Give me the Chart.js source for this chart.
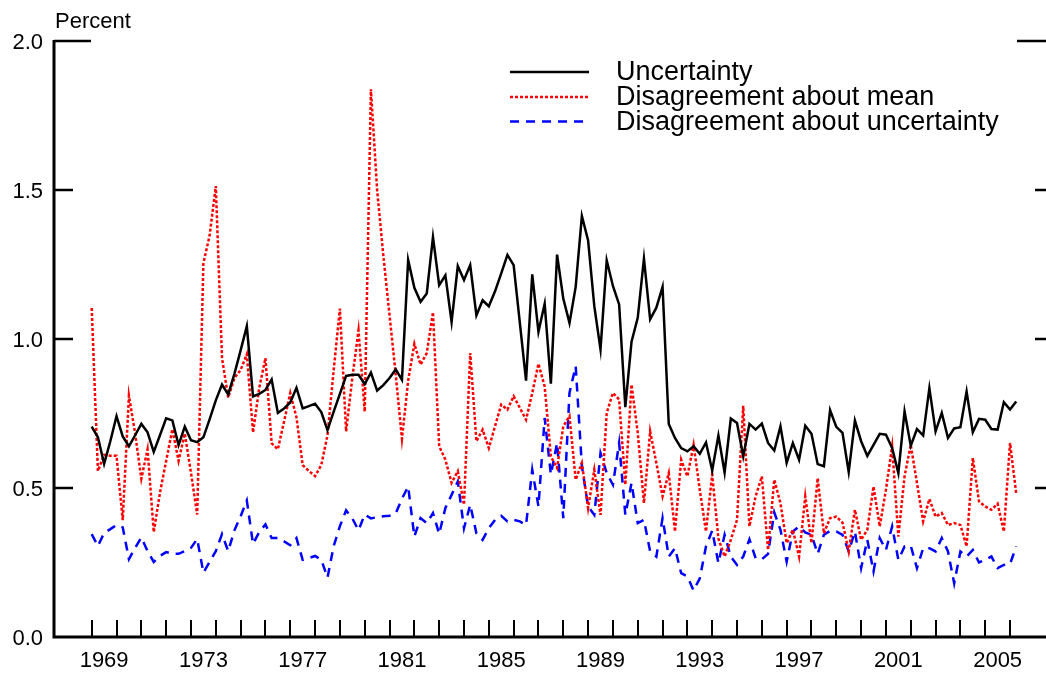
<!DOCTYPE html>
<html><head><meta charset="utf-8">
<script src="https://cdn.jsdelivr.net/npm/chart.js@4/dist/chart.umd.min.js"></script>
<style>html,body{margin:0;padding:0;background:#fff;}canvas{display:block;}</style>
</head><body>
<canvas id="c" width="1046" height="675"></canvas>
<script>
const startYear = 1969;
const seriesNames = ["Uncertainty", "Disagreement about mean", "Disagreement about uncertainty"];

const uncertainty = [
  0.706, 0.670, 0.581, 0.657, 0.741, 0.673, 0.640, 0.677, 0.715, 0.687,
  0.621, 0.677, 0.734, 0.727, 0.644, 0.706, 0.660, 0.654, 0.670, 0.730,
  0.794, 0.847, 0.814, 0.883, 0.962, 1.043, 0.807, 0.816, 0.829, 0.864,
  0.752, 0.767, 0.787, 0.836, 0.767, 0.775, 0.783, 0.755, 0.694, 0.756,
  0.816, 0.876, 0.880, 0.880, 0.849, 0.887, 0.827, 0.845, 0.869, 0.898,
  0.863,
  1.265, 1.172, 1.125, 1.153, 1.342, 1.181, 1.214, 1.057, 1.245, 1.198,
  1.248, 1.079, 1.130, 1.110, 1.160, 1.220, 1.282, 1.248, 1.054, 0.860,
  1.217, 1.024, 1.118, 0.850, 1.283, 1.136, 1.054, 1.175, 1.413, 1.331,
  1.110, 0.965, 1.264, 1.178, 1.116, 0.771, 0.991, 1.071, 1.270, 1.066,
  1.105, 1.175, 0.715, 0.668, 0.634, 0.623, 0.640, 0.615, 0.653, 0.559,
  0.676,
  0.552, 0.733, 0.718, 0.606, 0.715, 0.696, 0.716, 0.651, 0.626, 0.707,
  0.584, 0.651, 0.595, 0.709, 0.682, 0.580, 0.573, 0.761, 0.705, 0.685,
  0.554, 0.726, 0.657, 0.608, 0.645, 0.682,
  0.679, 0.634, 0.550, 0.757, 0.642, 0.698, 0.676, 0.835, 0.690, 0.752,
  0.668, 0.700, 0.704, 0.824, 0.687, 0.732, 0.729, 0.698, 0.696, 0.788,
  0.763, 0.790
];

const disagreementMean = [
  1.104, 0.557, 0.611, 0.608, 0.608, 0.392, 0.810, 0.683, 0.531, 0.630,
  0.352, 0.484, 0.591, 0.697, 0.591, 0.683, 0.551, 0.411, 1.254, 1.347,
  1.513, 0.936, 0.803, 0.869, 0.896, 0.949, 0.686, 0.836, 0.936, 0.650,
  0.630, 0.723, 0.819, 0.737, 0.577, 0.557, 0.540, 0.577, 0.677, 0.896,
  1.102, 0.690, 0.869, 1.029, 0.756, 1.838, 1.500, 1.280, 1.080, 0.880,
  0.665,
  0.860, 0.984, 0.914, 0.953, 1.090, 0.640, 0.595, 0.517, 0.556, 0.444,
  0.953, 0.657, 0.696, 0.634, 0.707, 0.780, 0.763, 0.808, 0.769, 0.729,
  0.819, 0.917, 0.841, 0.606, 0.567, 0.707, 0.741, 0.528, 0.584, 0.433,
  0.561, 0.410, 0.752, 0.819, 0.797, 0.511, 0.847, 0.685, 0.449, 0.690,
  0.584, 0.472, 0.550, 0.354, 0.595, 0.539, 0.645, 0.494, 0.354, 0.545,
  0.330,
  0.270, 0.326, 0.393, 0.776, 0.371, 0.472, 0.539, 0.292, 0.528, 0.449,
  0.315, 0.360, 0.270, 0.472, 0.315, 0.533, 0.348, 0.399, 0.404, 0.384,
  0.287, 0.427, 0.326, 0.360, 0.505, 0.371,
  0.494, 0.640, 0.337, 0.539, 0.645, 0.517, 0.388, 0.463, 0.404, 0.416,
  0.376, 0.382, 0.376, 0.304, 0.601, 0.455, 0.438, 0.427, 0.447, 0.354,
  0.651, 0.481
];

const disagreementUncertainty = [
  0.345, 0.305, 0.349, 0.362, 0.376, 0.368, 0.261, 0.299, 0.334, 0.288,
  0.252, 0.272, 0.285, 0.279, 0.279, 0.288, 0.299, 0.329, 0.216, 0.252,
  0.288, 0.345, 0.288, 0.358, 0.405, 0.458, 0.312, 0.352, 0.378, 0.332,
  0.332, 0.321, 0.308, 0.332, 0.259, 0.265, 0.272, 0.259, 0.199, 0.305,
  0.372, 0.425, 0.398, 0.358, 0.411, 0.398, 0.402, 0.405, 0.407, 0.415,
  0.464,
  0.505, 0.337, 0.399, 0.382, 0.416, 0.346, 0.433, 0.477, 0.522, 0.365,
  0.444, 0.348, 0.326, 0.365, 0.393, 0.407, 0.388, 0.393, 0.388, 0.376,
  0.561, 0.438, 0.735, 0.545, 0.651, 0.399, 0.819, 0.909, 0.573, 0.438,
  0.410, 0.617, 0.550, 0.511, 0.651, 0.410, 0.517, 0.382, 0.393, 0.287,
  0.270, 0.399, 0.270, 0.298, 0.214, 0.203, 0.156, 0.197, 0.304, 0.357,
  0.248,
  0.343, 0.270, 0.242, 0.270, 0.328, 0.264, 0.261, 0.279, 0.418, 0.360,
  0.253, 0.354, 0.371, 0.351, 0.343, 0.279, 0.343, 0.356, 0.354, 0.343,
  0.287, 0.354, 0.231, 0.326, 0.220, 0.332,
  0.292, 0.371, 0.259, 0.304, 0.306, 0.231, 0.298, 0.298, 0.287, 0.332,
  0.287, 0.180, 0.287, 0.270, 0.292, 0.250, 0.259, 0.270, 0.231, 0.242,
  0.245, 0.304
];

// quarterly observation positions (decimal years)
const quarters = uncertainty.map((_, i) => startYear + i / 4);
const yTickValues = [0, 0.5, 1.0, 1.5, 2.0];
const yearTickValues = [];
for (let y = 1969; y <= 2006; y++) yearTickValues.push(y);
const yearLabels = [1969, 1973, 1977, 1981, 1985, 1989, 1993, 1997, 2001, 2005];

const FONT = '"Liberation Sans", Arial, Helvetica, sans-serif';

const axesPlugin = {
  id: 'axesPlugin',
  afterDraw(chart) {
    const ctx = chart.ctx;
    const xs = chart.scales.x, ys = chart.scales.y;
    const L = chart.chartArea.left, R = chart.width;
    const y0 = ys.getPixelForValue(0), yTop = ys.getPixelForValue(2);
    ctx.save();
    ctx.strokeStyle = '#000';
    ctx.fillStyle = '#000';
    ctx.lineCap = 'butt';
    // axes lines
    ctx.lineWidth = 3;
    ctx.beginPath();
    ctx.moveTo(L, yTop - 1); ctx.lineTo(L, y0);
    ctx.moveTo(L - 1.5, y0); ctx.lineTo(R, y0);
    ctx.stroke();
    // y ticks (inward, left and right)
    ctx.lineWidth = 2.5;
    yTickValues.forEach(v => {
      if (v === 0) return;
      const py = ys.getPixelForValue(v);
      const len = v === 2 ? 37 : 19;
      ctx.beginPath();
      ctx.moveTo(L, py); ctx.lineTo(L + len, py);
      ctx.moveTo(1054, py); ctx.lineTo(1054 - len, py);
      ctx.stroke();
    });
    // year ticks (inward)
    ctx.lineWidth = 2;
    yearTickValues.forEach(yr => {
      const px = Math.round(xs.getPixelForValue(yr));
      ctx.beginPath();
      ctx.moveTo(px, y0); ctx.lineTo(px, y0 - 17);
      ctx.stroke();
    });
    // y labels
    ctx.font = '22px ' + FONT;
    ctx.textAlign = 'right';
    ctx.textBaseline = 'alphabetic';
    yTickValues.forEach(v => {
      const py = ys.getPixelForValue(v);
      ctx.fillText(v.toFixed(1), L - 11, py + 8);
    });
    // x labels
    ctx.textAlign = 'center';
    yearLabels.forEach(yr => {
      ctx.fillText(String(yr), xs.getPixelForValue(yr + 0.5), y0 + 30);
    });
    // unit label
    ctx.textAlign = 'left';
    ctx.fillText('Percent', 55, 28);
    // legend
    const styles = chart.data.datasets;
    const legY = [72, 97, 121.5];
    styles.forEach((ds, i) => {
      ctx.strokeStyle = ds.borderColor;
      ctx.lineWidth = ds.borderWidth;
      ctx.setLineDash(ds.borderDash || []);
      ctx.beginPath();
      ctx.moveTo(510, legY[i]); ctx.lineTo(589, legY[i]);
      ctx.stroke();
      ctx.setLineDash([]);
      ctx.fillStyle = '#000';
      ctx.font = '27px ' + FONT;
      ctx.fillText(ds.label, 616, legY[i] + 8);
    });
    ctx.restore();
  }
};

new Chart(document.getElementById('c'), {
  type: 'line',
  data: {
    labels: quarters,
    datasets: [
      { label: seriesNames[0], data: uncertainty, borderColor: '#000000', borderWidth: 2.5, borderDash: [] },
      { label: seriesNames[1], data: disagreementMean, borderColor: '#ff0000', borderWidth: 2.5, borderDash: [3, 2] },
      { label: seriesNames[2], data: disagreementUncertainty, borderColor: '#0000ff', borderWidth: 2.5, borderDash: [9, 7] }
    ]
  },
  options: {
    responsive: false,
    animation: false,
    devicePixelRatio: 1,
    layout: { padding: { left: 54, right: 0, top: 41, bottom: 38 } },
    elements: { point: { radius: 0 }, line: { tension: 0, borderJoinStyle: 'miter', fill: false } },
    plugins: { legend: { display: false }, tooltip: { enabled: false } },
    scales: {
      x: { type: 'linear', display: false, min: 1967.481, max: 2007.449 },
      y: { type: 'linear', display: false, min: 0, max: 2 }
    }
  },
  plugins: [axesPlugin]
});
</script>
</body></html>
